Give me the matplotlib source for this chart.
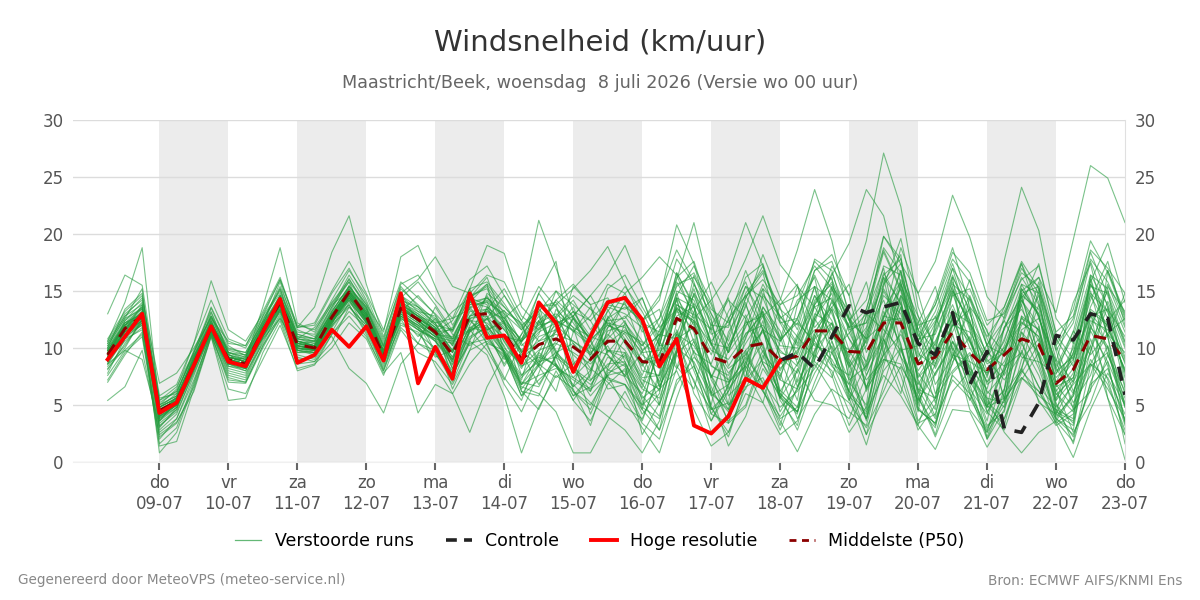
import numpy as np
import matplotlib.pyplot as plt
from matplotlib.lines import Line2D

# tijdstappen: 08-07 06:00 t/m 23-07 00:00, elke 6 uur (uren na 08-07 00:00)
hours = np.arange(6, 361, 6)

day_ticks = np.arange(24, 361, 24)
day_labels = ['do\n09-07', 'vr\n10-07', 'za\n11-07', 'zo\n12-07', 'ma\n13-07',
              'di\n14-07', 'wo\n15-07', 'do\n16-07', 'vr\n17-07', 'za\n18-07',
              'zo\n19-07', 'ma\n20-07', 'di\n21-07', 'wo\n22-07', 'do\n23-07']
shaded_days = [1, 3, 5, 7, 9, 11, 13]

# hoge resolutie (t/m 18-07 00:00)
hres = [9.0, 11.0, 13.0, 4.3, 5.2, 8.5, 11.9, 8.8, 8.4, 11.4,
        14.3, 8.7, 9.4, 11.6, 10.1, 11.9, 8.9, 14.8, 6.9, 10.1,
        7.3, 14.8, 10.9, 11.1, 8.7, 14.0, 12.2, 7.9, 11.0, 14.0,
        14.4, 12.5, 8.4, 10.8, 3.2, 2.5, 4.0, 7.3, 6.5, 8.9]

# controle (vanaf 18-07 00:00)
control = [8.9, 9.6, 8.2, 11.0, 13.7, 13.1, 13.6, 14.0, 10.4, 9.4, 13.1,
           6.8, 9.7, 2.9, 2.6, 5.2, 11.1, 10.7, 13.0, 12.6, 5.9]

median = [9.4, 11.7, 12.8, 4.5, 5.3, 8.6, 11.8, 9.0, 8.6, 11.5,
          14.0, 10.3, 10.0, 12.7, 14.9, 12.8, 9.2, 13.5, 12.5, 11.4,
          9.4, 12.9, 13.0, 11.3, 9.0, 10.3, 10.8, 10.1, 9.0, 10.6,
          10.6, 8.8, 8.7, 12.6, 11.7, 9.2, 8.7, 10.1, 10.4, 8.9,
          9.3, 11.5, 11.5, 9.7, 9.6, 12.2, 12.2, 8.6, 9.2, 11.4,
          9.6, 8.1, 9.4, 10.8, 10.3, 6.9, 8.1, 11.1, 10.8, 8.9]

# verstoorde runs (50 leden)
runs = [
    [9.0, 11.5, 13.8, 3.9, 5.0, 8.2, 12.4, 8.6, 8.0, 11.2, 14.6, 10.0, 9.6, 12.0, 15.5, 13.2, 9.0, 14.1, 13.0, 11.8, 8.8, 13.5, 14.1, 10.5, 8.2, 11.0, 11.6, 9.4, 8.0, 11.5, 12.0, 8.0, 7.6, 13.5, 12.4, 8.5, 7.2, 11.3, 12.0, 9.8, 8.4, 13.0, 12.1, 8.3, 10.2, 14.6, 13.0, 7.5, 9.8, 12.5, 10.5, 7.0, 8.8, 12.3, 11.0, 5.9, 7.4, 13.2, 12.0, 8.0],
    [10.2, 12.6, 15.2, 3.1, 4.6, 9.0, 13.1, 9.5, 8.3, 12.0, 15.8, 11.0, 10.8, 13.4, 16.1, 13.5, 10.1, 14.8, 12.2, 10.6, 8.5, 12.0, 14.6, 12.0, 10.5, 12.8, 9.6, 8.2, 7.1, 9.8, 9.2, 6.5, 10.4, 14.8, 10.5, 7.4, 10.2, 12.9, 9.6, 7.5, 11.2, 15.4, 10.6, 7.2, 8.4, 13.5, 15.8, 10.3, 7.6, 10.5, 8.2, 6.4, 11.8, 14.5, 9.3, 5.4, 9.6, 15.0, 9.4, 6.2],
    [8.1, 10.4, 12.2, 2.0, 3.8, 7.6, 11.5, 7.8, 7.4, 10.8, 13.3, 9.8, 9.4, 11.9, 14.2, 11.6, 8.4, 12.8, 11.0, 12.6, 10.2, 14.2, 12.0, 9.6, 7.4, 9.0, 12.4, 11.5, 10.2, 8.1, 7.5, 9.7, 11.2, 10.8, 13.9, 11.6, 6.4, 8.5, 13.6, 11.5, 7.0, 9.8, 14.2, 12.0, 6.5, 10.4, 14.0, 6.0, 11.5, 15.0, 12.2, 9.0, 7.2, 9.5, 13.8, 8.2, 6.0, 10.2, 14.1, 10.5],
    [9.8, 12.2, 13.5, 5.2, 6.2, 9.4, 12.0, 9.9, 9.6, 12.3, 14.2, 11.4, 11.2, 13.9, 15.8, 12.2, 9.8, 13.2, 14.6, 12.9, 10.6, 11.5, 12.5, 13.3, 10.4, 8.6, 10.3, 12.6, 10.8, 12.0, 11.4, 10.5, 7.0, 11.2, 15.2, 10.4, 8.2, 9.4, 11.6, 10.6, 12.5, 10.2, 9.6, 11.3, 13.0, 11.6, 9.8, 10.2, 12.8, 9.2, 7.6, 10.3, 12.4, 9.2, 8.8, 7.7, 11.5, 9.4, 11.3, 12.6],
    [7.2, 9.6, 11.0, 1.6, 3.0, 7.0, 11.2, 7.0, 6.9, 10.0, 12.8, 9.2, 8.8, 10.5, 13.6, 12.0, 8.0, 12.5, 10.4, 9.8, 7.6, 10.8, 11.9, 10.2, 6.8, 9.4, 8.4, 7.2, 6.2, 9.2, 8.4, 5.6, 6.8, 13.6, 11.4, 4.2, 3.4, 8.8, 11.6, 6.3, 4.8, 10.9, 13.4, 7.5, 3.8, 9.6, 14.4, 5.6, 3.2, 8.8, 11.0, 5.3, 3.8, 8.3, 11.9, 4.4, 3.6, 12.9, 10.1, 3.5],
    [13.0, 16.4, 15.5, 5.8, 6.8, 10.4, 14.2, 10.8, 10.2, 13.2, 16.2, 11.8, 12.0, 14.8, 17.0, 14.2, 10.6, 15.2, 13.8, 12.4, 10.8, 14.0, 13.6, 12.2, 9.6, 11.8, 12.6, 10.4, 8.8, 12.2, 11.8, 9.4, 8.2, 13.8, 12.9, 9.8, 9.0, 11.2, 13.0, 10.2, 10.0, 13.6, 14.4, 10.8, 8.8, 12.8, 15.2, 9.5, 8.4, 12.0, 11.4, 8.8, 10.0, 12.6, 11.6, 7.4, 9.0, 12.8, 13.4, 11.0],
    [5.4, 6.6, 9.8, 2.4, 3.5, 6.2, 11.0, 6.4, 6.0, 9.0, 12.0, 8.2, 8.6, 10.0, 12.2, 10.8, 7.6, 11.6, 9.6, 8.8, 6.8, 9.8, 10.6, 9.4, 5.8, 7.2, 8.6, 6.2, 5.0, 7.6, 8.0, 4.6, 2.8, 9.6, 12.4, 4.8, 2.2, 7.0, 11.8, 5.4, 3.2, 9.0, 12.2, 6.0, 2.4, 8.4, 13.6, 4.8, 3.0, 9.4, 8.8, 2.0, 4.6, 12.8, 9.2, 3.8, 2.8, 11.5, 8.8, 1.6],
    [10.6, 14.0, 18.8, 4.8, 5.6, 9.2, 13.5, 10.2, 9.3, 12.8, 15.0, 10.8, 10.4, 13.2, 15.4, 13.6, 9.6, 14.4, 15.8, 13.8, 11.5, 15.2, 15.8, 13.9, 11.6, 13.4, 12.0, 10.6, 9.4, 11.8, 12.8, 10.6, 9.2, 15.0, 14.2, 10.4, 7.8, 9.8, 11.4, 8.6, 9.6, 14.2, 15.6, 12.4, 10.8, 16.2, 14.0, 8.8, 10.6, 13.8, 10.0, 7.6, 10.8, 14.6, 13.4, 8.0, 9.2, 13.0, 11.2, 9.6],
    [8.6, 9.8, 9.0, 3.2, 4.4, 7.8, 11.3, 8.2, 7.8, 10.4, 13.4, 9.4, 9.0, 11.4, 14.0, 12.4, 8.8, 12.6, 11.6, 10.6, 9.0, 12.4, 12.2, 10.8, 8.4, 9.8, 10.4, 9.6, 8.6, 10.2, 7.4, 4.2, 6.0, 14.4, 12.0, 4.6, 5.2, 12.6, 15.2, 9.0, 5.4, 14.0, 16.2, 7.0, 5.0, 15.8, 18.2, 6.4, 5.6, 15.0, 12.4, 5.0, 6.2, 15.6, 14.8, 4.6, 3.8, 16.4, 15.2, 6.6],
    [10.4, 12.8, 14.4, 6.9, 7.8, 10.0, 12.6, 10.6, 10.0, 12.6, 14.8, 11.6, 11.0, 13.6, 16.4, 14.0, 10.4, 14.6, 13.2, 12.8, 10.4, 13.6, 14.2, 12.6, 10.6, 12.2, 13.0, 11.8, 11.0, 13.2, 15.4, 13.2, 10.2, 16.2, 17.6, 13.0, 10.6, 14.8, 16.8, 13.4, 12.0, 17.8, 16.8, 11.6, 12.2, 19.8, 17.8, 11.0, 13.8, 18.4, 16.6, 12.4, 13.0, 16.0, 17.2, 11.4, 12.8, 18.6, 17.0, 14.8],
    [8.4, 10.2, 12.4, 0.8, 2.6, 6.8, 11.4, 7.6, 7.2, 10.6, 13.2, 9.0, 9.2, 11.8, 13.8, 11.4, 8.2, 12.2, 11.2, 10.0, 8.0, 11.6, 12.0, 9.8, 7.6, 8.8, 9.2, 8.0, 6.8, 8.6, 8.8, 5.8, 4.0, 10.8, 11.8, 6.2, 4.4, 8.2, 10.4, 5.6, 4.4, 9.8, 11.8, 5.8, 4.2, 12.4, 12.6, 4.6, 3.4, 9.6, 6.0, 2.0, 5.6, 11.4, 9.6, 4.2, 3.2, 11.8, 10.0, 4.8],
    [7.8, 10.8, 11.6, 1.4, 1.8, 6.4, 11.1, 7.4, 7.0, 10.2, 13.0, 8.8, 9.4, 12.2, 14.4, 12.6, 9.4, 13.0, 12.0, 11.0, 9.6, 13.2, 13.4, 11.6, 9.4, 10.6, 11.2, 10.6, 9.6, 11.0, 14.2, 12.0, 6.6, 9.8, 16.4, 12.6, 5.8, 7.4, 14.6, 12.8, 11.0, 9.2, 15.4, 13.2, 6.4, 8.8, 14.6, 12.4, 6.8, 9.2, 13.6, 11.6, 5.4, 8.0, 15.2, 9.8, 4.6, 6.2, 16.8, 13.0],
    [10.0, 13.4, 14.8, 5.0, 6.4, 10.4, 15.9, 11.6, 10.6, 13.0, 16.0, 12.0, 11.6, 13.8, 15.0, 12.4, 9.8, 14.0, 12.8, 9.6, 7.4, 11.4, 12.6, 9.6, 6.4, 8.4, 11.8, 12.8, 10.6, 7.4, 6.8, 5.0, 10.2, 16.6, 13.6, 7.2, 4.6, 8.4, 12.4, 6.0, 4.4, 9.6, 13.4, 8.6, 3.6, 10.2, 13.6, 7.2, 4.0, 10.6, 8.4, 4.8, 5.6, 12.8, 11.6, 5.0, 3.4, 9.8, 13.6, 7.4],
    [7.0, 9.4, 11.4, 2.2, 3.4, 6.6, 11.0, 5.4, 5.6, 9.6, 12.4, 8.0, 8.5, 11.2, 13.2, 11.8, 8.6, 12.0, 11.4, 9.2, 9.8, 14.4, 13.8, 10.0, 8.6, 12.4, 9.6, 6.6, 8.0, 13.4, 10.4, 7.6, 11.6, 14.2, 9.4, 6.0, 9.8, 13.8, 10.2, 5.6, 8.0, 12.6, 10.0, 5.4, 8.6, 15.0, 12.0, 5.0, 9.4, 13.2, 7.8, 3.6, 9.8, 13.8, 8.6, 4.2, 10.4, 16.0, 11.0, 5.0],
    [9.6, 12.0, 13.6, 4.0, 5.8, 9.0, 12.8, 9.2, 9.0, 13.6, 18.8, 12.2, 11.4, 14.2, 16.8, 14.6, 10.8, 15.6, 16.4, 14.2, 12.6, 16.0, 17.2, 14.6, 12.4, 15.4, 13.6, 11.4, 12.8, 15.6, 14.8, 11.4, 12.6, 17.8, 15.6, 12.0, 11.8, 16.2, 17.4, 12.6, 13.8, 17.6, 16.0, 12.4, 14.2, 19.8, 17.4, 12.0, 12.6, 17.0, 14.4, 11.0, 13.2, 16.6, 15.4, 10.2, 12.6, 17.8, 15.8, 12.4],
    [9.2, 12.4, 14.0, 3.6, 5.4, 8.8, 12.6, 9.6, 9.4, 12.4, 15.4, 11.8, 13.6, 18.4, 21.6, 15.6, 11.0, 15.4, 13.6, 12.2, 9.6, 12.8, 14.4, 12.8, 9.2, 10.2, 11.4, 13.2, 12.4, 9.8, 8.6, 6.4, 5.6, 10.0, 8.8, 5.8, 6.8, 9.2, 7.0, 4.8, 6.2, 8.2, 11.0, 9.8, 7.2, 9.0, 8.6, 5.4, 7.8, 10.6, 6.4, 4.2, 8.4, 9.6, 6.6, 4.8, 6.8, 8.6, 7.4, 4.2],
    [8.8, 11.2, 12.0, 3.0, 4.8, 8.0, 11.6, 8.4, 8.2, 11.0, 13.6, 10.4, 10.6, 11.0, 8.2, 6.9, 4.3, 8.6, 10.4, 13.6, 11.2, 10.2, 11.6, 12.2, 10.8, 13.6, 14.0, 12.2, 10.0, 9.4, 7.6, 6.0, 9.6, 11.4, 8.0, 4.2, 6.6, 12.0, 13.2, 10.8, 12.2, 10.6, 8.4, 6.8, 11.4, 14.2, 10.0, 5.2, 8.6, 12.8, 10.8, 6.8, 8.0, 11.6, 12.6, 8.8, 5.2, 7.6, 12.4, 14.2],
    [9.4, 11.8, 13.2, 4.6, 5.2, 8.4, 12.2, 8.8, 9.2, 12.2, 15.2, 10.8, 11.8, 14.0, 16.0, 13.8, 11.4, 18.0, 19.0, 15.4, 12.0, 14.6, 15.2, 12.2, 9.6, 11.2, 15.0, 12.6, 9.2, 10.8, 12.4, 8.6, 6.2, 12.2, 14.6, 10.6, 12.4, 16.8, 13.0, 9.6, 9.0, 12.8, 17.2, 14.6, 8.4, 11.0, 14.6, 10.6, 14.2, 18.8, 13.6, 9.2, 11.6, 15.6, 12.8, 7.8, 9.4, 14.2, 17.6, 12.0],
    [9.0, 10.6, 11.8, 4.2, 5.6, 9.4, 11.4, 9.2, 8.8, 10.8, 12.6, 10.2, 9.8, 12.4, 13.8, 11.2, 7.8, 9.6, 4.3, 6.8, 6.0, 8.6, 10.4, 9.8, 7.0, 6.6, 9.4, 8.2, 5.8, 7.6, 9.4, 6.8, 5.0, 9.6, 10.8, 7.6, 5.0, 6.4, 9.8, 7.2, 6.4, 10.8, 12.2, 9.0, 6.6, 9.4, 11.2, 7.8, 5.6, 8.0, 9.6, 6.2, 4.8, 7.8, 10.4, 6.0, 4.4, 8.6, 11.2, 8.2],
    [10.6, 13.0, 14.2, 5.6, 6.0, 9.8, 13.2, 9.6, 9.0, 12.0, 14.4, 11.2, 10.8, 13.0, 15.2, 13.6, 10.2, 14.8, 16.0, 18.0, 15.4, 14.8, 16.4, 15.8, 12.8, 11.6, 12.8, 14.6, 13.4, 12.2, 10.6, 8.4, 10.8, 15.6, 16.2, 13.8, 9.6, 11.8, 15.6, 12.8, 10.4, 15.4, 14.2, 9.8, 11.8, 17.2, 16.4, 10.8, 11.2, 15.2, 12.0, 8.6, 9.6, 14.8, 13.0, 6.8, 8.8, 15.4, 14.8, 10.6],
    [8.2, 10.0, 12.6, 2.8, 4.2, 8.0, 11.8, 8.0, 7.6, 11.0, 13.8, 9.6, 9.6, 12.2, 14.6, 12.6, 9.0, 13.2, 11.8, 8.4, 6.0, 2.6, 6.6, 9.4, 6.2, 4.6, 8.0, 5.4, 3.6, 6.8, 8.2, 4.8, 3.8, 8.2, 10.6, 6.6, 3.6, 5.0, 9.4, 6.0, 4.4, 7.8, 10.2, 6.2, 3.8, 8.0, 10.0, 4.6, 3.4, 7.6, 6.0, 3.0, 5.4, 8.0, 6.2, 3.8, 2.4, 6.4, 8.8, 5.2],
    [9.6, 11.4, 13.0, 4.4, 5.4, 8.8, 12.0, 9.4, 8.8, 11.8, 14.6, 10.6, 10.2, 13.0, 14.8, 13.0, 9.8, 14.2, 13.6, 12.0, 11.6, 15.2, 19.0, 18.3, 13.6, 12.0, 14.2, 15.6, 13.8, 14.4, 12.2, 9.8, 11.2, 13.4, 9.6, 8.6, 12.6, 14.6, 11.6, 8.2, 9.8, 11.6, 8.6, 7.6, 10.8, 12.2, 9.2, 6.8, 9.6, 12.6, 8.8, 7.8, 11.8, 13.4, 10.6, 6.2, 8.2, 13.4, 12.2, 7.8],
    [9.2, 11.0, 12.4, 3.8, 5.0, 8.6, 11.6, 8.6, 8.4, 11.2, 13.8, 10.0, 9.8, 12.4, 14.2, 12.2, 9.2, 12.8, 12.0, 9.6, 7.0, 10.6, 9.4, 5.8, 0.8, 4.8, 7.6, 6.4, 3.2, 8.0, 9.6, 5.4, 2.8, 6.8, 9.2, 7.6, 3.4, 4.8, 8.8, 7.8, 3.8, 6.4, 9.6, 6.8, 2.4, 5.6, 8.4, 5.8, 2.2, 6.2, 8.0, 4.4, 2.8, 7.2, 9.6, 6.4, 2.6, 5.2, 9.4, 5.6],
    [9.8, 12.0, 13.4, 4.8, 5.6, 9.0, 12.4, 9.0, 8.6, 11.6, 14.0, 10.6, 10.4, 12.8, 14.6, 12.8, 9.4, 13.6, 12.8, 11.6, 9.8, 12.6, 13.2, 12.6, 14.0, 21.2, 17.0, 13.2, 10.6, 15.2, 16.4, 13.6, 11.0, 14.6, 17.2, 14.0, 10.2, 13.6, 18.2, 14.4, 11.6, 16.8, 17.6, 13.2, 10.4, 15.4, 19.6, 12.8, 10.2, 14.6, 15.2, 11.4, 9.6, 13.8, 17.4, 11.2, 9.0, 15.8, 19.2, 14.0],
    [9.0, 11.6, 12.8, 4.2, 5.2, 8.4, 11.8, 9.0, 8.4, 11.4, 14.0, 10.4, 10.0, 12.6, 14.6, 12.6, 9.4, 13.4, 12.4, 11.2, 9.2, 12.6, 12.8, 11.0, 10.6, 14.8, 17.6, 9.0, 4.2, 7.8, 8.6, 2.4, 5.2, 11.6, 8.6, 3.6, 6.8, 12.4, 10.0, 4.4, 7.2, 12.6, 14.8, 8.8, 4.6, 10.8, 15.6, 9.8, 5.2, 12.0, 13.4, 6.0, 7.8, 14.2, 12.0, 5.4, 7.2, 14.8, 13.2, 6.4],
    [8.6, 11.0, 12.6, 3.4, 4.6, 8.2, 12.0, 8.8, 8.2, 11.6, 13.4, 9.8, 10.0, 12.4, 14.4, 12.6, 8.8, 13.0, 11.6, 10.8, 9.0, 11.8, 11.4, 9.6, 6.6, 6.0, 4.4, 0.8, 0.8, 3.6, 6.2, 3.4, 2.0, 7.2, 8.4, 4.8, 2.6, 6.6, 7.4, 3.8, 4.8, 9.4, 8.0, 4.4, 3.2, 9.0, 8.2, 3.4, 4.2, 10.0, 7.6, 3.2, 4.4, 10.4, 7.6, 3.6, 1.8, 8.4, 9.6, 4.8],
    [10.0, 12.4, 13.6, 4.8, 6.0, 9.6, 12.8, 9.8, 9.4, 12.0, 14.6, 11.0, 10.6, 13.2, 15.4, 13.4, 10.0, 14.0, 13.2, 12.0, 10.2, 13.8, 14.0, 13.0, 11.6, 13.6, 13.8, 15.2, 16.8, 18.9, 15.6, 12.4, 14.6, 18.6, 15.8, 11.2, 12.0, 15.4, 14.4, 10.6, 12.6, 16.4, 13.0, 9.2, 12.8, 18.4, 15.0, 8.8, 11.6, 17.0, 11.8, 7.4, 12.8, 17.4, 14.0, 8.4, 11.4, 17.6, 13.6, 9.2],
    [9.6, 11.8, 12.8, 4.4, 5.6, 8.8, 11.6, 9.4, 9.0, 11.8, 13.8, 10.6, 10.2, 12.8, 15.0, 13.2, 9.6, 13.8, 13.0, 11.8, 9.8, 12.8, 13.2, 11.6, 9.8, 11.4, 12.2, 12.8, 14.6, 16.4, 19.0, 15.2, 11.8, 13.4, 12.2, 8.4, 7.6, 10.4, 12.8, 9.2, 7.8, 11.4, 13.6, 10.8, 8.0, 12.8, 12.4, 7.4, 9.0, 13.4, 10.6, 7.8, 9.8, 12.2, 11.0, 6.6, 7.4, 12.4, 11.6, 8.8],
    [8.8, 11.2, 12.2, 3.6, 5.2, 8.6, 11.4, 8.4, 8.0, 11.0, 13.4, 9.6, 9.8, 12.0, 13.6, 12.0, 8.8, 12.8, 11.8, 10.6, 8.8, 11.8, 12.6, 10.6, 8.4, 9.2, 8.6, 6.8, 5.2, 4.0, 2.8, 0.8, 3.6, 9.4, 7.2, 2.6, 4.2, 9.6, 6.4, 2.8, 6.6, 11.2, 7.6, 3.2, 6.4, 13.2, 10.4, 3.6, 5.6, 12.4, 6.8, 2.2, 6.4, 11.4, 8.2, 4.0, 5.8, 12.0, 8.4, 3.2],
    [9.4, 11.4, 12.4, 4.0, 5.0, 8.8, 12.0, 8.8, 8.6, 11.6, 14.2, 10.2, 10.0, 12.6, 14.8, 12.8, 9.2, 13.4, 12.6, 11.6, 9.6, 12.8, 13.4, 11.8, 9.8, 8.4, 9.6, 10.4, 8.2, 7.0, 5.4, 3.0, 0.8, 5.6, 9.8, 6.0, 1.4, 4.0, 8.2, 5.8, 2.8, 7.0, 10.6, 5.6, 1.5, 6.8, 11.6, 6.2, 2.4, 7.8, 9.4, 5.0, 3.2, 9.0, 10.8, 5.2, 1.6, 7.0, 10.2, 6.0],
    [9.8, 12.2, 13.0, 4.6, 5.4, 9.2, 12.2, 9.6, 9.2, 12.0, 14.4, 10.8, 10.6, 13.0, 15.0, 13.0, 9.6, 13.8, 12.8, 12.2, 12.6, 13.4, 11.6, 12.4, 10.2, 11.6, 14.2, 12.8, 9.4, 12.6, 14.8, 16.2, 18.0, 16.4, 12.6, 9.4, 13.2, 15.8, 11.6, 8.0, 10.8, 14.6, 12.4, 8.6, 11.6, 16.6, 13.8, 9.2, 12.2, 16.4, 12.4, 8.0, 10.6, 15.2, 12.8, 7.0, 10.0, 15.6, 12.6, 9.0],
    [10.2, 12.6, 13.4, 5.0, 5.8, 9.2, 12.4, 9.2, 8.8, 11.8, 14.2, 10.4, 10.2, 12.8, 15.2, 13.0, 9.4, 13.6, 12.6, 11.6, 7.4, 11.6, 12.8, 9.6, 6.8, 8.6, 7.4, 8.6, 10.2, 12.6, 13.6, 12.4, 14.2, 20.8, 17.4, 11.8, 9.6, 14.4, 17.2, 12.2, 9.4, 13.8, 15.8, 11.4, 8.2, 12.6, 16.8, 11.2, 8.6, 13.2, 12.2, 9.6, 8.4, 12.0, 14.6, 9.0, 7.0, 11.6, 15.6, 11.8],
    [9.2, 11.6, 13.2, 4.6, 5.4, 8.6, 12.0, 9.2, 8.8, 11.4, 14.4, 10.2, 10.0, 12.8, 14.8, 12.8, 9.4, 13.4, 12.4, 11.2, 10.8, 11.6, 13.4, 15.2, 12.4, 10.6, 12.0, 13.2, 11.0, 10.4, 11.6, 10.2, 12.6, 16.0, 21.0, 14.6, 8.4, 10.8, 15.2, 13.6, 8.6, 12.2, 16.6, 12.6, 7.6, 11.2, 16.0, 12.8, 8.2, 11.4, 14.6, 10.8, 7.6, 10.6, 15.8, 10.2, 6.2, 9.6, 15.4, 13.2],
    [8.8, 11.2, 12.8, 4.0, 5.0, 8.4, 11.6, 8.8, 8.4, 11.2, 13.8, 10.0, 9.8, 12.4, 14.6, 12.4, 9.0, 13.2, 12.2, 11.0, 9.0, 12.4, 11.0, 9.0, 11.2, 13.0, 8.4, 5.8, 6.6, 9.8, 9.6, 7.2, 6.4, 8.0, 4.6, 1.4, 2.6, 6.0, 5.2, 2.4, 3.6, 8.6, 6.2, 2.6, 4.8, 10.8, 7.6, 2.8, 5.0, 11.2, 6.2, 2.6, 5.0, 9.8, 6.6, 3.4, 4.6, 10.8, 7.2, 2.4],
    [9.4, 11.8, 12.6, 4.4, 5.2, 8.6, 11.8, 9.0, 8.6, 11.4, 14.0, 10.4, 10.0, 12.6, 14.8, 12.8, 9.2, 13.6, 12.4, 11.4, 11.6, 14.4, 15.4, 13.0, 9.6, 6.8, 9.2, 12.8, 14.6, 12.0, 11.2, 8.8, 9.4, 13.8, 12.6, 14.2, 16.4, 21.0, 17.2, 12.4, 10.2, 14.6, 11.6, 8.4, 10.6, 15.2, 12.4, 8.0, 10.4, 14.8, 10.6, 7.0, 10.2, 14.2, 11.4, 6.6, 9.6, 14.6, 11.8, 8.0],
    [9.6, 11.8, 13.0, 4.6, 5.4, 8.8, 12.0, 9.2, 8.8, 11.6, 14.2, 10.6, 10.2, 13.0, 15.0, 13.0, 9.4, 13.8, 12.8, 11.8, 8.2, 11.0, 11.8, 9.4, 5.8, 8.6, 13.4, 11.8, 7.2, 8.4, 10.8, 8.6, 9.0, 12.8, 13.6, 10.2, 14.6, 17.8, 21.6, 17.3, 15.4, 13.6, 11.2, 9.4, 13.4, 18.6, 15.2, 10.6, 13.2, 17.4, 13.0, 9.4, 12.4, 16.2, 13.8, 8.2, 11.0, 16.4, 13.8, 10.0],
    [8.6, 10.8, 12.2, 3.6, 4.8, 8.2, 11.2, 8.6, 8.2, 11.0, 13.2, 9.8, 9.6, 12.2, 14.4, 12.2, 8.8, 12.6, 11.6, 10.8, 10.4, 13.6, 11.6, 8.4, 10.8, 12.4, 9.8, 7.4, 9.0, 11.2, 9.8, 7.4, 7.6, 11.2, 10.2, 7.6, 7.0, 8.4, 6.2, 3.6, 0.9, 4.2, 6.4, 5.2, 3.0, 6.2, 9.8, 6.4, 3.8, 7.2, 5.6, 2.8, 6.0, 8.2, 5.4, 3.2, 4.2, 9.0, 6.8, 2.8],
    [10.0, 12.2, 13.0, 5.0, 5.8, 9.0, 12.2, 9.6, 9.2, 12.2, 14.6, 10.8, 10.6, 13.2, 15.4, 13.4, 9.8, 14.2, 13.4, 12.2, 8.6, 11.4, 12.6, 14.6, 12.0, 8.8, 10.6, 15.4, 13.8, 9.6, 11.4, 9.6, 9.8, 13.2, 12.4, 10.4, 10.0, 12.2, 12.8, 14.2, 18.6, 23.9, 19.4, 12.6, 10.8, 16.4, 17.8, 11.6, 9.8, 15.6, 14.2, 10.2, 9.4, 14.4, 16.2, 10.8, 8.4, 13.6, 16.8, 12.8],
    [9.4, 11.6, 12.6, 4.2, 5.0, 8.4, 11.8, 9.0, 8.6, 11.4, 13.8, 10.2, 9.8, 12.4, 14.6, 12.6, 9.2, 13.4, 12.4, 11.2, 9.2, 12.6, 10.4, 6.8, 4.4, 7.8, 11.6, 13.6, 9.8, 6.4, 6.8, 4.6, 10.8, 14.4, 8.4, 5.0, 11.4, 14.0, 8.6, 5.6, 11.0, 13.8, 16.4, 19.2, 23.9, 21.6, 15.6, 10.2, 12.4, 15.8, 11.6, 4.4, 6.4, 15.2, 13.0, 5.6, 7.8, 16.2, 11.0, 3.4],
    [9.8, 12.0, 12.8, 4.8, 5.6, 8.8, 11.8, 9.2, 8.8, 11.8, 14.0, 10.6, 10.2, 12.8, 15.0, 13.0, 9.6, 13.6, 12.6, 11.6, 13.2, 14.4, 16.2, 12.2, 7.6, 9.6, 8.4, 6.6, 11.4, 13.6, 13.0, 11.8, 6.6, 9.6, 14.8, 12.4, 7.0, 9.0, 14.8, 12.2, 12.6, 16.8, 18.2, 14.6, 19.4, 27.1, 22.4, 13.6, 9.8, 16.2, 7.0, 4.8, 11.8, 14.6, 9.4, 3.8, 6.0, 12.0, 15.0, 11.4],
    [9.0, 11.4, 12.4, 4.2, 5.2, 8.6, 11.6, 8.8, 8.4, 11.4, 13.6, 10.0, 9.8, 12.4, 14.4, 12.4, 9.0, 13.2, 12.2, 11.0, 11.8, 14.6, 10.2, 7.4, 5.4, 9.6, 12.8, 6.2, 4.6, 8.2, 12.2, 10.2, 12.0, 15.8, 13.0, 11.6, 14.2, 12.6, 8.6, 6.2, 8.6, 10.4, 9.0, 6.2, 4.4, 7.6, 5.8, 3.2, 1.1, 4.6, 4.4, 1.3, 3.8, 7.4, 5.8, 4.6, 2.2, 6.8, 8.2, 3.6],
    [9.4, 12.0, 13.2, 4.4, 5.4, 8.8, 12.0, 9.4, 9.0, 11.8, 14.2, 10.4, 10.2, 12.8, 15.2, 13.2, 9.6, 13.8, 12.8, 11.6, 7.6, 10.6, 14.8, 13.6, 11.8, 13.8, 8.6, 5.4, 7.8, 12.6, 8.8, 5.0, 6.4, 10.8, 7.0, 4.6, 6.2, 8.8, 6.2, 4.0, 6.4, 11.2, 14.0, 11.8, 12.2, 15.6, 17.4, 14.8, 17.6, 23.4, 19.7, 14.5, 12.6, 17.0, 14.8, 9.8, 12.2, 18.4, 14.6, 10.2],
    [9.2, 11.4, 12.6, 4.6, 5.4, 8.6, 11.6, 9.0, 8.6, 11.4, 13.8, 10.2, 9.8, 12.6, 14.6, 12.6, 9.2, 13.4, 12.6, 11.4, 12.4, 15.2, 11.2, 8.6, 11.2, 14.8, 12.6, 14.2, 11.6, 13.8, 13.4, 14.4, 10.6, 8.2, 13.2, 15.8, 12.6, 7.2, 9.0, 13.8, 15.6, 8.8, 7.4, 12.2, 15.8, 9.6, 6.0, 12.2, 15.4, 9.8, 5.4, 9.2, 17.7, 24.1, 20.3, 12.6, 10.4, 15.6, 13.2, 8.6],
    [8.8, 11.0, 12.0, 3.8, 4.8, 8.2, 11.4, 8.6, 8.2, 11.0, 13.4, 9.8, 9.6, 12.2, 14.2, 12.2, 8.8, 12.8, 11.8, 10.8, 6.4, 9.8, 13.6, 12.4, 6.2, 5.8, 9.4, 12.6, 10.8, 7.2, 6.8, 3.6, 7.8, 14.4, 13.6, 6.0, 4.6, 11.0, 13.2, 5.8, 4.2, 12.6, 15.4, 8.0, 3.8, 12.0, 16.8, 7.0, 4.6, 13.0, 7.4, 5.6, 2.6, 0.8, 2.6, 3.6, 5.8, 8.6, 6.4, 3.8],
    [9.0, 11.2, 12.4, 4.0, 5.0, 8.4, 11.4, 8.8, 8.4, 11.2, 13.6, 10.0, 9.8, 12.4, 14.4, 12.4, 9.0, 13.0, 12.0, 11.0, 10.6, 14.0, 15.6, 9.4, 7.2, 12.4, 13.8, 8.6, 6.2, 11.8, 14.0, 9.8, 5.0, 9.8, 14.8, 10.4, 5.0, 7.4, 13.6, 11.0, 6.6, 9.0, 15.2, 12.6, 6.2, 9.4, 15.6, 11.6, 6.0, 8.6, 14.4, 10.2, 5.6, 7.4, 6.2, 3.4, 0.4, 4.6, 7.8, 5.0],
    [9.6, 12.0, 13.0, 4.8, 5.6, 8.8, 12.0, 9.2, 8.8, 11.6, 14.0, 10.4, 10.2, 12.8, 15.0, 13.0, 9.4, 13.6, 12.6, 11.6, 8.2, 11.6, 9.8, 7.2, 10.6, 13.2, 9.2, 5.8, 7.6, 12.8, 10.8, 6.8, 11.0, 16.6, 13.8, 7.4, 11.0, 15.4, 12.8, 7.2, 13.8, 16.2, 9.6, 6.2, 13.0, 17.0, 10.2, 5.4, 12.2, 15.4, 8.0, 4.8, 8.2, 15.0, 16.2, 13.1, 19.5, 26.0, 24.9, 21.0],
    [9.2, 11.6, 12.8, 4.4, 5.2, 8.6, 11.8, 9.0, 8.6, 11.4, 13.8, 10.2, 10.0, 12.6, 14.8, 12.8, 9.2, 13.4, 12.4, 11.2, 11.0, 13.8, 14.4, 13.2, 12.2, 8.4, 6.2, 11.4, 13.6, 9.4, 7.6, 12.4, 13.4, 8.4, 6.4, 12.0, 14.4, 8.0, 5.2, 10.6, 14.2, 15.4, 8.6, 5.4, 11.2, 16.2, 9.2, 4.4, 12.0, 16.2, 13.4, 5.6, 5.2, 14.8, 15.4, 6.8, 4.8, 13.2, 5.6, 0.2],
    [10.8, 13.2, 14.6, 5.4, 6.6, 9.6, 13.6, 10.4, 10.2, 12.8, 16.0, 11.8, 12.2, 15.0, 17.6, 14.8, 11.6, 15.8, 14.4, 13.0, 11.4, 14.4, 15.6, 13.6, 12.0, 13.2, 15.0, 13.8, 12.4, 14.2, 13.8, 12.2, 11.4, 15.4, 16.6, 13.4, 12.2, 14.6, 16.0, 13.8, 14.6, 17.2, 15.2, 11.8, 13.4, 18.8, 16.6, 11.6, 13.8, 17.8, 15.8, 12.0, 13.6, 17.6, 15.2, 10.4, 13.4, 19.4, 16.6, 12.6],
    [7.6, 9.8, 11.2, 2.6, 3.8, 7.2, 11.2, 7.2, 7.0, 10.2, 12.6, 8.6, 8.8, 11.2, 12.8, 11.0, 8.0, 11.8, 10.4, 9.4, 7.8, 10.4, 10.8, 9.2, 6.8, 7.6, 8.2, 7.4, 6.4, 7.6, 4.8, 3.8, 7.4, 11.2, 6.0, 3.6, 6.2, 9.8, 6.8, 3.2, 8.2, 5.4, 5.0, 3.8, 7.6, 10.8, 6.6, 3.2, 7.8, 10.2, 4.6, 2.6, 8.0, 10.8, 5.2, 4.2, 7.0, 10.2, 5.6, 2.4],
    [10.4, 12.8, 13.8, 5.4, 6.2, 9.6, 12.8, 10.0, 9.6, 12.4, 15.2, 11.2, 10.8, 13.6, 15.8, 13.8, 10.2, 14.6, 13.6, 12.6, 10.8, 14.0, 14.4, 12.6, 10.6, 12.0, 12.4, 11.6, 10.6, 12.4, 12.6, 14.4, 10.2, 10.4, 15.6, 13.0, 9.6, 14.4, 16.6, 10.8, 15.4, 11.8, 13.6, 15.6, 9.6, 12.6, 18.8, 14.8, 9.4, 12.0, 16.0, 10.2, 13.6, 17.4, 12.6, 8.8, 14.0, 17.4, 11.0, 14.8],
]

run_color = '#229a3c'
fig = plt.figure(figsize=(12, 6), dpi=100)
ax = fig.add_axes([0.061, 0.23, 0.8765, 0.57])

for d in shaded_days:
    ax.axvspan(24 * d, 24 * (d + 1), color='#ececec', lw=0, zorder=0)

for r in runs:
    ax.plot(hours, r, color=run_color, lw=0.8, alpha=0.6, zorder=2)

ax.plot(hours, median, color='#8b0000', lw=2.2, ls=(0, (4, 3)), zorder=3)
ax.plot(hours[39:], control, color='#222222', lw=2.6, ls=(0, (4, 3)), zorder=4)
ax.plot(hours[:40], hres, color='#ff0000', lw=2.8, zorder=5)

ax.set_xlim(-6, 360)
ax.set_ylim(0, 30)
ax.set_yticks(range(0, 31, 5))
ax.set_xticks(day_ticks)
ax.set_xticklabels(day_labels)
ax.grid(axis='y', color='#dcdcdc', lw=1)
ax.set_axisbelow(True)
for s in ['top', 'left']:
    ax.spines[s].set_visible(False)
ax.spines['right'].set_color('#e0e0e0')
ax.spines['bottom'].set_color('#f0f0f0')
ax.tick_params(axis='y', length=0, labelsize=12, labelcolor='#555555',
               labelright=True, pad=7)
ax.tick_params(axis='x', length=6, width=1.5, color='#666666',
               labelsize=12, labelcolor='#555555', pad=3)

fig.text(0.5, 0.93, 'Windsnelheid (km/uur)', ha='center', va='center',
         fontsize=21, color='#333333')
fig.text(0.5, 0.861, 'Maastricht/Beek, woensdag  8 juli 2026 (Versie wo 00 uur)',
         ha='center', va='center', fontsize=12.7, color='#666666')

handles = [Line2D([], [], color=run_color, lw=0.9, alpha=0.7),
           Line2D([], [], color='#222222', lw=2.6, ls=(0, (3, 2))),
           Line2D([], [], color='#ff0000', lw=2.8),
           Line2D([], [], color='#8b0000', lw=2, ls=(0, (2.5, 2)))]
labels = ['Verstoorde runs', 'Controle', 'Hoge resolutie', 'Middelste (P50)']
fig.legend(handles, labels, loc='center', bbox_to_anchor=(0.5, 0.098), ncol=4,
           frameon=False, fontsize=12.5, handlelength=1.5, columnspacing=1.85,
           handletextpad=0.75)

fig.text(0.015, 0.033, 'Gegenereerd door MeteoVPS (meteo-service.nl)',
         ha='left', va='center', fontsize=9.8, color='#888888')
fig.text(0.985, 0.033, 'Bron: ECMWF AIFS/KNMI Ens',
         ha='right', va='center', fontsize=9.8, color='#888888')

fig.savefig('out.png', dpi=100)
